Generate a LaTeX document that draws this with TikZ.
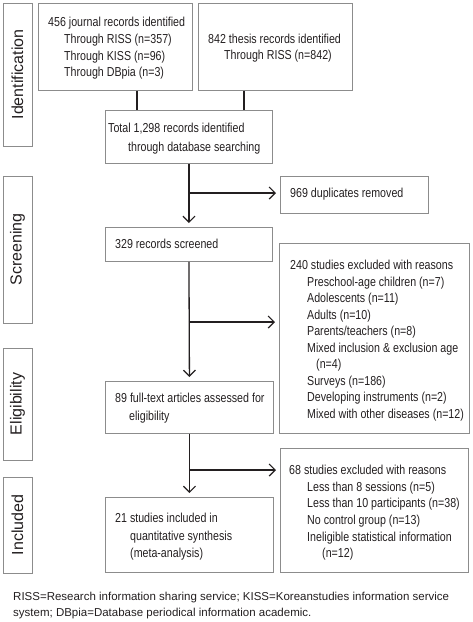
\documentclass[tikz,border=0pt]{standalone}
\usepackage{fontspec}
\setmainfont{Liberation Sans}
\newfontfamily\narrowfont[FakeStretch=0.82]{Liberation Sans}
\usetikzlibrary{arrows.meta}
\definecolor{boxgray}{HTML}{8C8C8C}
\definecolor{ink}{HTML}{231F20}
\tikzset{
  frame/.style={draw=boxgray, line width=0.9pt, inner sep=0pt, anchor=north west},
  txt/.style={anchor=north west, inner sep=0pt, align=left, text=ink,
    font=\narrowfont\fontsize{13}{#1}\selectfont},
  txt/.default=16.7,
  stage/.style={draw=boxgray, line width=0.9pt, inner sep=0pt, rotate=90, text=ink,
    font=\fontsize{16}{18}\selectfont},
  link/.style={draw=ink, line width=1.3pt},
  arr/.style={link, -{Straight Barb[length=6pt,width=12pt,line width=1.2pt]}, shorten >=4pt},
  foot/.style={anchor=north west, inner sep=0pt, align=left, text=ink,
    font=\fontsize{11.5}{16}\selectfont}
}
\begin{document}
\begin{tikzpicture}[x=1pt,y=-1pt]
\useasboundingbox (0,0) rectangle (472,622);

% stage labels
\node[stage, minimum width=143pt, minimum height=29pt] (sId) at (17.5,74.5) {Identification};
\node[stage, minimum width=147pt, minimum height=29pt] (sSc) at (17.5,249.5) {Screening};
\node[stage, minimum width=112pt, minimum height=29pt] (sEl) at (17.5,404) {Eligibility};
\node[stage, minimum width=96pt, minimum height=29pt] (sIn) at (17.5,525) {Included};

% boxes
\node[frame, minimum width=154pt, minimum height=87pt] (J) at (38,3) {};
\node[frame, minimum width=154pt, minimum height=87pt] (T) at (198,3) {};
\node[frame, minimum width=167pt, minimum height=53pt] (Tot) at (105,110) {};
\node[frame, minimum width=148pt, minimum height=37pt] (Dup) at (280,176) {};
\node[frame, minimum width=167pt, minimum height=34pt] (Scr) at (105,227) {};
\node[frame, minimum width=190pt, minimum height=190pt] (Ex1) at (279,243) {};
\node[frame, minimum width=168pt, minimum height=52pt] (Full) at (105,381) {};
\node[frame, minimum width=188pt, minimum height=124pt] (Ex2) at (280,448) {};
\node[frame, minimum width=168pt, minimum height=75pt] (Inc) at (105,497) {};

% texts
\node[txt] (tJ) at (48,17.2) {456 journal records identified\\
  \hspace*{16pt}Through RISS (n=357)\\
  \hspace*{16pt}Through KISS (n=96)\\
  \hspace*{16pt}Through DBpia (n=3)};
\node[txt] (tT) at (208,33.5) {842 thesis records identified\\
  \hspace*{16pt}Through RISS (n=842)};
\node[txt=19] (tTot) at (108,123) {Total 1,298 records identified\\
  \hspace*{20pt}through database searching};
\node[txt] (tDup) at (290,188) {969 duplicates removed};
\node[txt] (tScr) at (115,239) {329 records screened};
\node[txt=16.5] (tEx1) at (290,260) {240 studies excluded with reasons\\
  \hspace*{17pt}Preschool-age children (n=7)\\
  \hspace*{17pt}Adolescents (n=11)\\
  \hspace*{17pt}Adults (n=10)\\
  \hspace*{17pt}Parents/teachers (n=8)\\
  \hspace*{17pt}Mixed inclusion \& exclusion age\\
  \hspace*{26pt}(n=4)\\
  \hspace*{17pt}Surveys (n=186)\\
  \hspace*{17pt}Developing instruments (n=2)\\
  \hspace*{17pt}Mixed with other diseases (n=12)};
\node[txt=18] (tFull) at (115,393) {89 full-text articles assessed for\\
  \hspace*{14pt}eligibility};
\node[txt=16.6] (tEx2) at (289,465) {68 studies excluded with reasons\\
  \hspace*{18pt}Less than 8 sessions (n=5)\\
  \hspace*{18pt}Less than 10 participants (n=38)\\
  \hspace*{18pt}No control group (n=13)\\
  \hspace*{18pt}Ineligible statistical information\\
  \hspace*{33pt}(n=12)};
\node[txt=17.5] (tInc) at (115,513) {21 studies included in\\
  \hspace*{15pt}quantitative synthesis\\
  \hspace*{15pt}(meta-analysis)};

% footnote
\node[foot] (fn) at (13,591.6) {RISS=Research information sharing service; KISS=Koreanstudies information service\\
system; DBpia=Database periodical information academic.};

% connectors
\draw[link] (J.south west) ++(99,0) coordinate (jd) -- (jd |- Tot.north);
\draw[link] (T.south west) ++(46,0) coordinate (td) -- (td |- Tot.north);

\draw[arr] (Tot.south) -- (Scr.north);
\coordinate (b1) at (280,193);
\draw[arr] (Tot.south |- b1) -- (Dup.west |- b1);

\draw[arr] (Scr.south) -- (Full.north);
\coordinate (b2) at (279,322);
\draw[arr] (Scr.south |- b2) -- (Ex1.west |- b2);

\draw[arr] (Full.south) -- (Inc.north);
\coordinate (b3) at (280,470);
\draw[arr] (Full.south |- b3) -- (Ex2.west |- b3);
\end{tikzpicture}
\end{document}
